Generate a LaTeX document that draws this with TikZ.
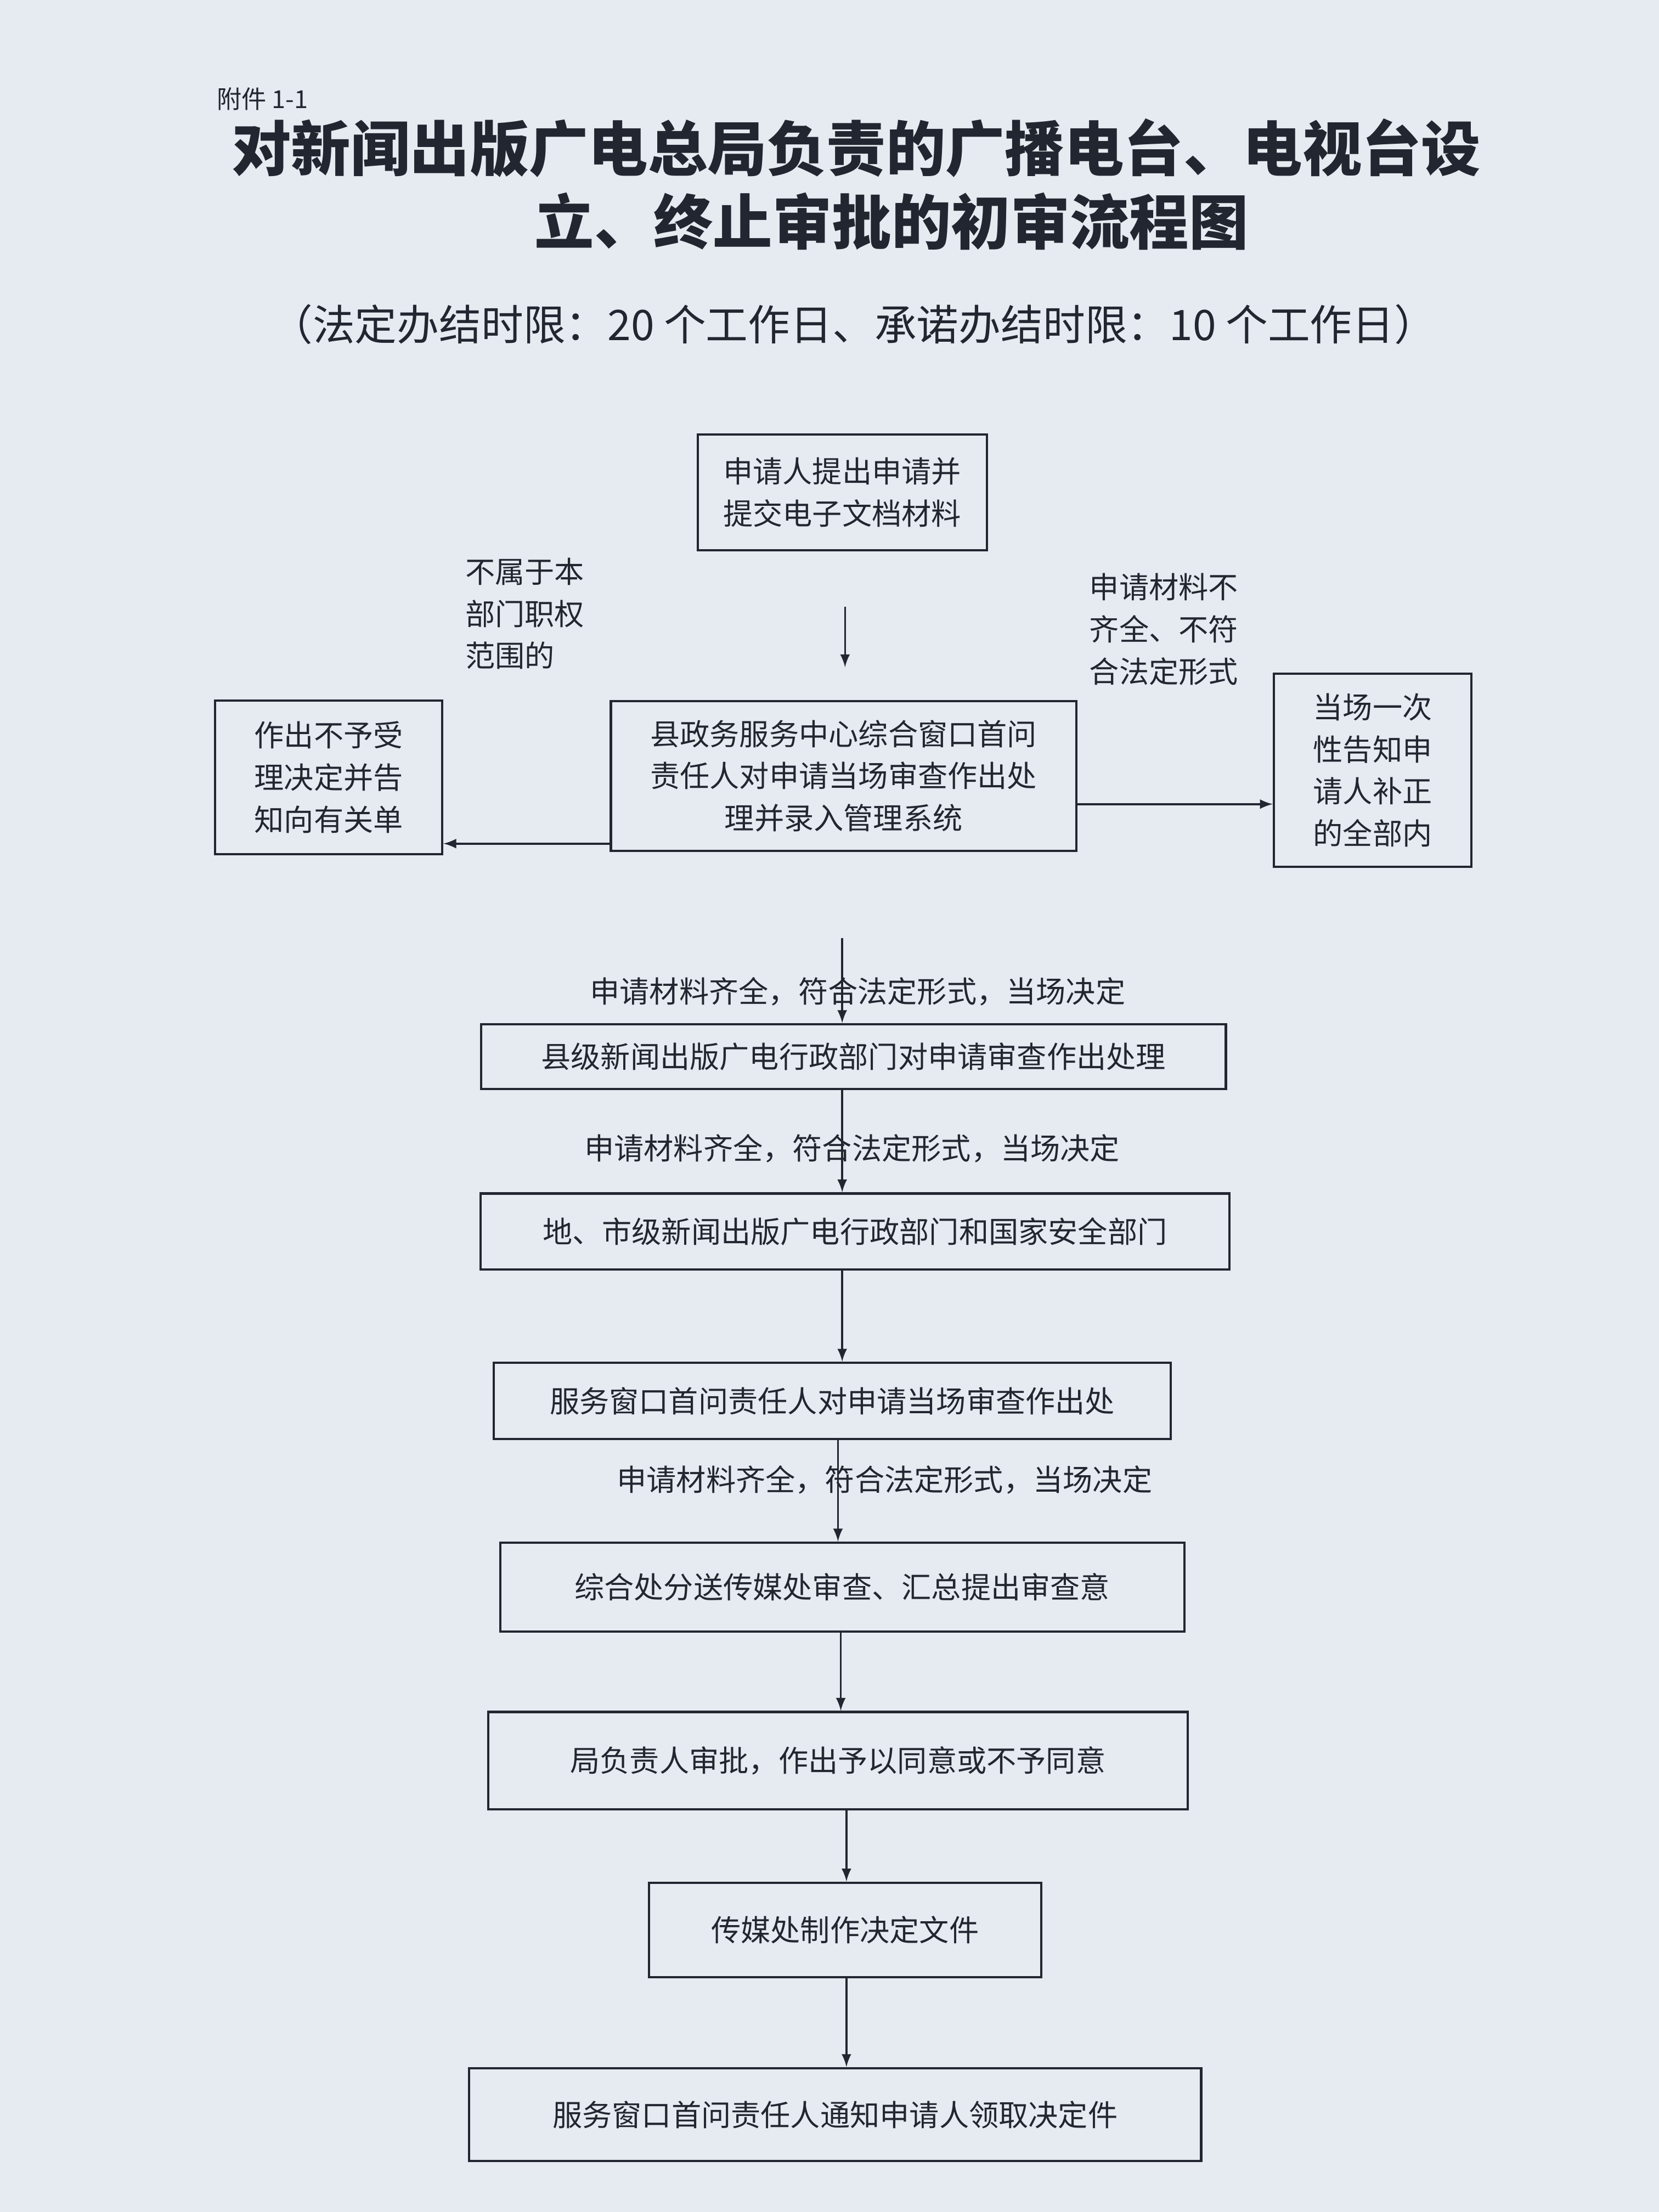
\documentclass[tikz,border=0pt]{standalone}
\usepackage{fontspec}
\newfontfamily\cjk{Noto Sans CJK SC}
\definecolor{paper}{HTML}{E6EBF1}
\definecolor{ink}{HTML}{222630}
\tikzset{box/.style = {draw=ink, line width=0.9pt, inner sep=2pt, align=center,
                       font=\cjk\fontsize{12}{17}\selectfont, text=ink},
         note/.style = {align=left, font=\cjk\fontsize{12}{17}\selectfont, text=ink},
         arr/.style = {-latex, draw=ink, line width=0.8pt}
        }
\begin{document}
\begin{tikzpicture}[x=0.02cm,y=-0.02cm]
  \fill[paper] (0,0) rectangle (1176,1568);
  \useasboundingbox (0,0) rectangle (1176,1568);
  % titles
  \node[text=ink,font=\cjk\fontsize{10}{12}\selectfont] (fj) at (186,70) {附件 1-1};
  \node[text=ink,font=\cjk\bfseries\fontsize{24}{30}\selectfont] (t1) at (607,105) {对新闻出版广电总局负责的广播电台、电视台设};
  \node[text=ink,font=\cjk\bfseries\fontsize{24}{30}\selectfont] (t2) at (632,157) {立、终止审批的初审流程图};
  \node[text=ink,font=\cjk\fontsize{17}{20}\selectfont] (t3) at (605,230) {（法定办结时限：20 个工作日、承诺办结时限：10 个工作日）};
  % boxes
  \node[box, minimum width=4.1cm, minimum height=1.64cm] (sq) at (597,349) {申请人提出申请并\\提交电子文档材料};
  \node[box, minimum width=6.6cm, minimum height=2.12cm] (ck) at (598,550) {县政务服务中心综合窗口首问\\责任人对申请当场审查作出处\\理并录入管理系统};
  \node[box, minimum width=3.22cm, minimum height=2.18cm] (bsl) at (233,551) {作出不予受\\理决定并告\\知向有关单};
  \node[box, minimum width=2.8cm, minimum height=2.74cm] (bz) at (973,546) {当场一次\\性告知申\\请人补正\\的全部内};
  \node[box, minimum width=10.56cm, minimum height=0.92cm] (xj) at (605,749) {县级新闻出版广电行政部门对申请审查作出处理};
  \node[box, minimum width=10.62cm, minimum height=1.08cm] (ds) at (606,873) {地、市级新闻出版广电行政部门和国家安全部门};
  \node[box, minimum width=9.6cm, minimum height=1.08cm] (fw) at (590,993) {服务窗口首问责任人对申请当场审查作出处};
  \node[box, minimum width=9.7cm, minimum height=1.26cm] (zh) at (597,1125) {综合处分送传媒处审查、汇总提出审查意};
  \node[box, minimum width=9.92cm, minimum height=1.38cm] (jf) at (594,1248) {局负责人审批，作出予以同意或不予同意};
  \node[box, minimum width=5.56cm, minimum height=1.34cm] (cm) at (599,1368) {传媒处制作决定文件};
  \node[box, minimum width=10.38cm, minimum height=1.32cm] (tz) at (592,1499) {服务窗口首问责任人通知申请人领取决定件};
  % notes
  \node[note] (n1) at (372,435) {不属于本\\部门职权\\范围的};
  \node[note] (n2) at (825,446) {申请材料不\\齐全、不符\\合法定形式};
  \node[note] (n3) at (608,703) {申请材料齐全，符合法定形式，当场决定};
  \node[note] (n4) at (604,814) {申请材料齐全，符合法定形式，当场决定};
  \node[note] (n5) at (627,1049) {申请材料齐全，符合法定形式，当场决定};
  % arrows
  \coordinate (a1) at (599,430);
  \coordinate (a2) at (599,473);
  \coordinate (a3) at (597,665);
  \draw[arr] (a1) -- (a2);
  \draw[arr] (ck.south west |- 0,598) -- (bsl.east |- 0,598);
  \draw[arr] (ck.east |- 0,570) -- (bz.west |- 0,570);
  \draw[arr] (a3) -- (xj.north -| a3);
  \draw[arr] (xj.south -| a3) -- (ds.north -| a3);
  \draw[arr] (ds.south -| a3) -- (fw.north -| a3);
  \draw[arr] (fw.south -| 594,0) -- (zh.north -| 594,0);
  \draw[arr] (zh.south -| 596,0) -- (jf.north -| 596,0);
  \draw[arr] (jf.south -| 600,0) -- (cm.north -| 600,0);
  \draw[arr] (cm.south -| 600,0) -- (tz.north -| 600,0);
\end{tikzpicture}
\end{document}
